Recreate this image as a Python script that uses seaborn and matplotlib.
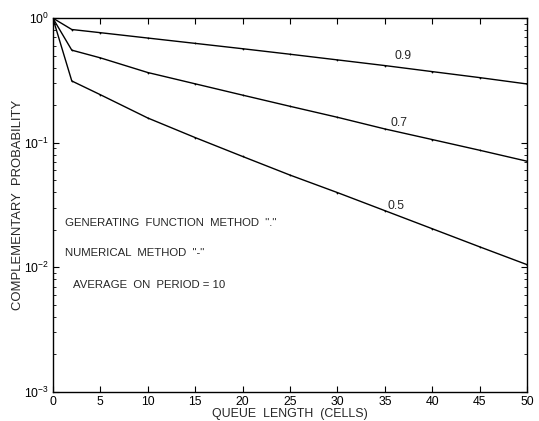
import numpy as np
import pandas as pd
import matplotlib
matplotlib.use("Agg")
import matplotlib.pyplot as plt
import seaborn as sns
from matplotlib.ticker import LogLocator, NullFormatter

# ---- data ----
queue_length = [0, 2, 5, 10, 15, 20, 25, 30, 35, 40, 45, 50]
prob_09 = [1.0, 0.81, 0.764, 0.692, 0.627, 0.568, 0.513, 0.462, 0.416, 0.372, 0.333, 0.296]
prob_07 = [1.0, 0.553, 0.48, 0.366, 0.297, 0.241, 0.196, 0.160, 0.129, 0.106, 0.087, 0.071]
prob_05 = [1.0, 0.313, 0.243, 0.158, 0.110, 0.0776, 0.055, 0.0398, 0.0285, 0.0204, 0.0146, 0.0105]
load_labels = ["0.9", "0.7", "0.5"]
label_pos = [(36.9, 0.50), (36.5, 0.145), (36.2, 0.031)]

x_ticks = [0, 5, 10, 15, 20, 25, 30, 35, 40, 45, 50]

df = pd.DataFrame({
    "x": queue_length * 3,
    "y": prob_09 + prob_07 + prob_05,
    "load": [load_labels[0]] * len(queue_length)
            + [load_labels[1]] * len(queue_length)
            + [load_labels[2]] * len(queue_length),
})

sns.set_style("ticks")
plt.rcParams["font.family"] = ["Liberation Sans", "DejaVu Sans"]
plt.rcParams["mathtext.fontset"] = "custom"
plt.rcParams["mathtext.rm"] = "Liberation Sans"
plt.rcParams["mathtext.it"] = "Liberation Sans"

fig = plt.figure(figsize=(5.39, 4.21), dpi=100)
ax = fig.add_axes([0.098, 0.069, 0.88, 0.888])

sns.lineplot(data=df, x="x", y="y", hue="load",
             palette={l: "black" for l in load_labels},
             linewidth=1.0, marker="o", markersize=1.3, markeredgewidth=0,
             legend=False, ax=ax)

ax.set_yscale("log")
ax.set_xlim(0, 50)
ax.set_ylim(1e-3, 1)
ax.set_xticks(x_ticks)
ax.set_xticklabels([str(t) for t in x_ticks])
ax.yaxis.set_major_locator(LogLocator(base=10))
ax.yaxis.set_minor_locator(LogLocator(base=10, subs=np.arange(2, 10)))
ax.yaxis.set_minor_formatter(NullFormatter())

ax.tick_params(which="both", direction="in", top=True, right=True, colors="black",
               labelsize=8.8)
ax.tick_params(which="major", length=4, width=0.8, pad=3)
ax.tick_params(which="minor", length=2, width=0.6)
for s in ax.spines.values():
    s.set_color("black")
    s.set_linewidth(1.0)

ax.set_xlabel("QUEUE  LENGTH  (CELLS)", fontsize=8.9, labelpad=0)
ax.set_ylabel("COMPLEMENTARY  PROBABILITY", fontsize=9.4, labelpad=0)

for lab, (tx, ty) in zip(load_labels, label_pos):
    ax.text(tx, ty, lab, fontsize=8.8, ha="center", va="center")

ax.text(1.3, 0.0227, 'GENERATING  FUNCTION  METHOD  "."', fontsize=8.2, va="center")
ax.text(1.3, 0.0130, 'NUMERICAL  METHOD  "-"', fontsize=8.2, va="center")
ax.text(2.1, 0.0072, "AVERAGE  ON  PERIOD = 10", fontsize=8.2, va="center")

fig.savefig("out.png", dpi=100)
